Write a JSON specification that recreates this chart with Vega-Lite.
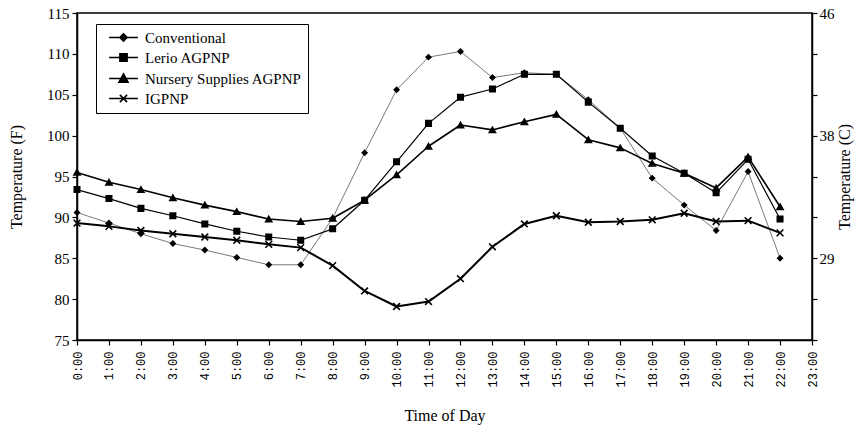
{
  "$schema": "https://vega.github.io/schema/vega-lite/v6.json",
  "width": 735,
  "height": 327,
  "autosize": {"type": "none"},
  "padding": {"left": 77, "top": 13, "right": 49, "bottom": 88},
  "background": "white",
  "config": {
    "view": {"stroke": "black", "strokeWidth": 1.5},
    "axis": {"domainColor": "black", "domainWidth": 1.5, "tickColor": "black", "tickWidth": 1.2, "grid": false, "labelColor": "black", "titleColor": "black", "labelFont": "Liberation Serif", "titleFont": "Liberation Serif", "titleFontWeight": "normal", "labelFontSize": 15, "titleFontSize": 16}
  },
  "data": {"values": [
    {"hour":0,"series":"Conventional","temp":90.6},{"hour":1,"series":"Conventional","temp":89.3},{"hour":2,"series":"Conventional","temp":88.0},{"hour":3,"series":"Conventional","temp":86.8},{"hour":4,"series":"Conventional","temp":86.0},{"hour":5,"series":"Conventional","temp":85.1},{"hour":6,"series":"Conventional","temp":84.2},{"hour":7,"series":"Conventional","temp":84.2},{"hour":8,"series":"Conventional","temp":89.9},{"hour":9,"series":"Conventional","temp":97.9},{"hour":10,"series":"Conventional","temp":105.6},{"hour":11,"series":"Conventional","temp":109.6},{"hour":12,"series":"Conventional","temp":110.3},{"hour":13,"series":"Conventional","temp":107.1},{"hour":14,"series":"Conventional","temp":107.7},{"hour":15,"series":"Conventional","temp":107.5},{"hour":16,"series":"Conventional","temp":104.4},{"hour":17,"series":"Conventional","temp":100.9},{"hour":18,"series":"Conventional","temp":94.8},{"hour":19,"series":"Conventional","temp":91.5},{"hour":20,"series":"Conventional","temp":88.4},{"hour":21,"series":"Conventional","temp":95.6},{"hour":22,"series":"Conventional","temp":85.0},
    {"hour":0,"series":"Lerio AGPNP","temp":93.4},{"hour":1,"series":"Lerio AGPNP","temp":92.3},{"hour":2,"series":"Lerio AGPNP","temp":91.1},{"hour":3,"series":"Lerio AGPNP","temp":90.2},{"hour":4,"series":"Lerio AGPNP","temp":89.2},{"hour":5,"series":"Lerio AGPNP","temp":88.3},{"hour":6,"series":"Lerio AGPNP","temp":87.6},{"hour":7,"series":"Lerio AGPNP","temp":87.2},{"hour":8,"series":"Lerio AGPNP","temp":88.6},{"hour":9,"series":"Lerio AGPNP","temp":92.1},{"hour":10,"series":"Lerio AGPNP","temp":96.8},{"hour":11,"series":"Lerio AGPNP","temp":101.5},{"hour":12,"series":"Lerio AGPNP","temp":104.7},{"hour":13,"series":"Lerio AGPNP","temp":105.7},{"hour":14,"series":"Lerio AGPNP","temp":107.5},{"hour":15,"series":"Lerio AGPNP","temp":107.5},{"hour":16,"series":"Lerio AGPNP","temp":104.1},{"hour":17,"series":"Lerio AGPNP","temp":100.9},{"hour":18,"series":"Lerio AGPNP","temp":97.5},{"hour":19,"series":"Lerio AGPNP","temp":95.4},{"hour":20,"series":"Lerio AGPNP","temp":93.0},{"hour":21,"series":"Lerio AGPNP","temp":97.1},{"hour":22,"series":"Lerio AGPNP","temp":89.8},
    {"hour":0,"series":"Nursery Supplies AGPNP","temp":95.5},{"hour":1,"series":"Nursery Supplies AGPNP","temp":94.3},{"hour":2,"series":"Nursery Supplies AGPNP","temp":93.4},{"hour":3,"series":"Nursery Supplies AGPNP","temp":92.4},{"hour":4,"series":"Nursery Supplies AGPNP","temp":91.5},{"hour":5,"series":"Nursery Supplies AGPNP","temp":90.7},{"hour":6,"series":"Nursery Supplies AGPNP","temp":89.8},{"hour":7,"series":"Nursery Supplies AGPNP","temp":89.5},{"hour":8,"series":"Nursery Supplies AGPNP","temp":89.9},{"hour":9,"series":"Nursery Supplies AGPNP","temp":92.1},{"hour":10,"series":"Nursery Supplies AGPNP","temp":95.2},{"hour":11,"series":"Nursery Supplies AGPNP","temp":98.7},{"hour":12,"series":"Nursery Supplies AGPNP","temp":101.3},{"hour":13,"series":"Nursery Supplies AGPNP","temp":100.7},{"hour":14,"series":"Nursery Supplies AGPNP","temp":101.7},{"hour":15,"series":"Nursery Supplies AGPNP","temp":102.6},{"hour":16,"series":"Nursery Supplies AGPNP","temp":99.5},{"hour":17,"series":"Nursery Supplies AGPNP","temp":98.5},{"hour":18,"series":"Nursery Supplies AGPNP","temp":96.6},{"hour":19,"series":"Nursery Supplies AGPNP","temp":95.4},{"hour":20,"series":"Nursery Supplies AGPNP","temp":93.6},{"hour":21,"series":"Nursery Supplies AGPNP","temp":97.4},{"hour":22,"series":"Nursery Supplies AGPNP","temp":91.3},
    {"hour":0,"series":"IGPNP","temp":89.3},{"hour":1,"series":"IGPNP","temp":88.9},{"hour":2,"series":"IGPNP","temp":88.4},{"hour":3,"series":"IGPNP","temp":88.0},{"hour":4,"series":"IGPNP","temp":87.6},{"hour":5,"series":"IGPNP","temp":87.2},{"hour":6,"series":"IGPNP","temp":86.7},{"hour":7,"series":"IGPNP","temp":86.3},{"hour":8,"series":"IGPNP","temp":84.1},{"hour":9,"series":"IGPNP","temp":81.0},{"hour":10,"series":"IGPNP","temp":79.1},{"hour":11,"series":"IGPNP","temp":79.7},{"hour":12,"series":"IGPNP","temp":82.5},{"hour":13,"series":"IGPNP","temp":86.4},{"hour":14,"series":"IGPNP","temp":89.2},{"hour":15,"series":"IGPNP","temp":90.2},{"hour":16,"series":"IGPNP","temp":89.4},{"hour":17,"series":"IGPNP","temp":89.5},{"hour":18,"series":"IGPNP","temp":89.7},{"hour":19,"series":"IGPNP","temp":90.5},{"hour":20,"series":"IGPNP","temp":89.5},{"hour":21,"series":"IGPNP","temp":89.6},{"hour":22,"series":"IGPNP","temp":88.1}
  ]},
  "encoding": {
    "x": {"field": "hour", "type": "quantitative", "scale": {"domain": [0, 23], "nice": false},
      "axis": {"title": "Time of Day", "values": [0,1,2,3,4,5,6,7,8,9,10,11,12,13,14,15,16,17,18,19,20,21,22,23], "labelExpr": "datum.value + ':00'", "labelAngle": 270, "labelFont": "Liberation Mono", "labelFontSize": 12, "tickSize": 5, "labelPadding": 6, "titlePadding": 20}}
  },
  "layer": [
    {
      "encoding": {
        "y": {"field": "temp", "type": "quantitative", "scale": {"domain": [75, 115], "nice": false},
          "axis": {"title": "Temperature (F)", "values": [75,80,85,90,95,100,105,110,115], "tickSize": 5, "labelPadding": 3, "titlePadding": 22}}
      },
      "layer": [
        {
          "mark": {"type": "line", "strokeJoin": "round"},
          "encoding": {
            "detail": {"field": "series"},
            "color": {"field": "series", "type": "nominal", "scale": {"domain": ["Conventional", "Lerio AGPNP", "Nursery Supplies AGPNP", "IGPNP"], "range": ["#555555", "#000000", "#000000", "#000000"]}, "legend": null},
            "strokeWidth": {"field": "series", "type": "nominal", "scale": {"domain": ["Conventional", "Lerio AGPNP", "Nursery Supplies AGPNP", "IGPNP"], "range": [0.8, 2, 2, 2]}, "legend": null}
          }
        },
        {
          "mark": {"type": "point", "filled": true, "color": "black", "fill": "black", "stroke": "black", "strokeWidth": 1.6, "opacity": 1},
          "encoding": {
            "shape": {"field": "series", "type": "nominal", "scale": {"domain": ["Conventional", "Lerio AGPNP", "Nursery Supplies AGPNP", "IGPNP"], "range": ["diamond", "square", "triangle-up", "M-1,-1L1,1M-1,1L1,-1"]}, "legend": null},
            "size": {"field": "series", "type": "nominal", "scale": {"domain": ["Conventional", "Lerio AGPNP", "Nursery Supplies AGPNP", "IGPNP"], "range": [22, 45, 55, 40]}, "legend": null}
          }
        },
        {
          "mark": {"type": "point", "filled": true, "color": "black", "fill": "black", "stroke": "black", "strokeWidth": 1.6, "opacity": 0},
          "encoding": {
            "shape": {"field": "series", "type": "nominal", "title": null,
              "scale": {"domain": ["Conventional", "Lerio AGPNP", "Nursery Supplies AGPNP", "IGPNP"],
                "range": ["M-3.2,0L3.2,0M0,-0.8L0.8,0L0,0.8L-0.8,0Z", "M-3.2,0L3.2,0M-0.8,-0.8L0.8,-0.8L0.8,0.8L-0.8,0.8Z", "M-3.2,0L3.2,0M0,-1L1,0.8L-1,0.8Z", "M-3.2,0L3.2,0M-0.8,-0.8L0.8,0.8M-0.8,0.8L0.8,-0.8"]},
              "legend": {"orient": "none", "legendX": 19, "legendY": 11, "strokeColor": "black", "fillColor": "white", "padding": 6, "symbolSize": 81, "symbolOpacity": 1, "symbolStrokeWidth": 1.6, "labelFont": "Liberation Serif", "labelFontSize": 15, "labelColor": "black", "labelOffset": 14, "rowPadding": 4, "labelLimit": 300, "symbolOffset": 14}}
          }
        }
      ],
      "resolve": {"scale": {"shape": "independent"}}
    },
    {
      "mark": {"type": "point", "opacity": 0},
      "encoding": {
        "y": {"field": "temp", "type": "quantitative", "scale": {"domain": [75, 115], "nice": false},
          "axis": {"orient": "right", "title": "Temperature (C)", "titleAngle": 270, "values": [75,80,85,90,95,100,105,110,115], "labelExpr": "datum.value == 115 ? '46' : datum.value == 100 ? '38' : datum.value == 85 ? '29' : ''", "tickSize": 5, "labelPadding": 2, "titlePadding": 14, "titleX": 40}}
      }
    }
  ],
  "resolve": {"scale": {"y": "independent"}}
}
